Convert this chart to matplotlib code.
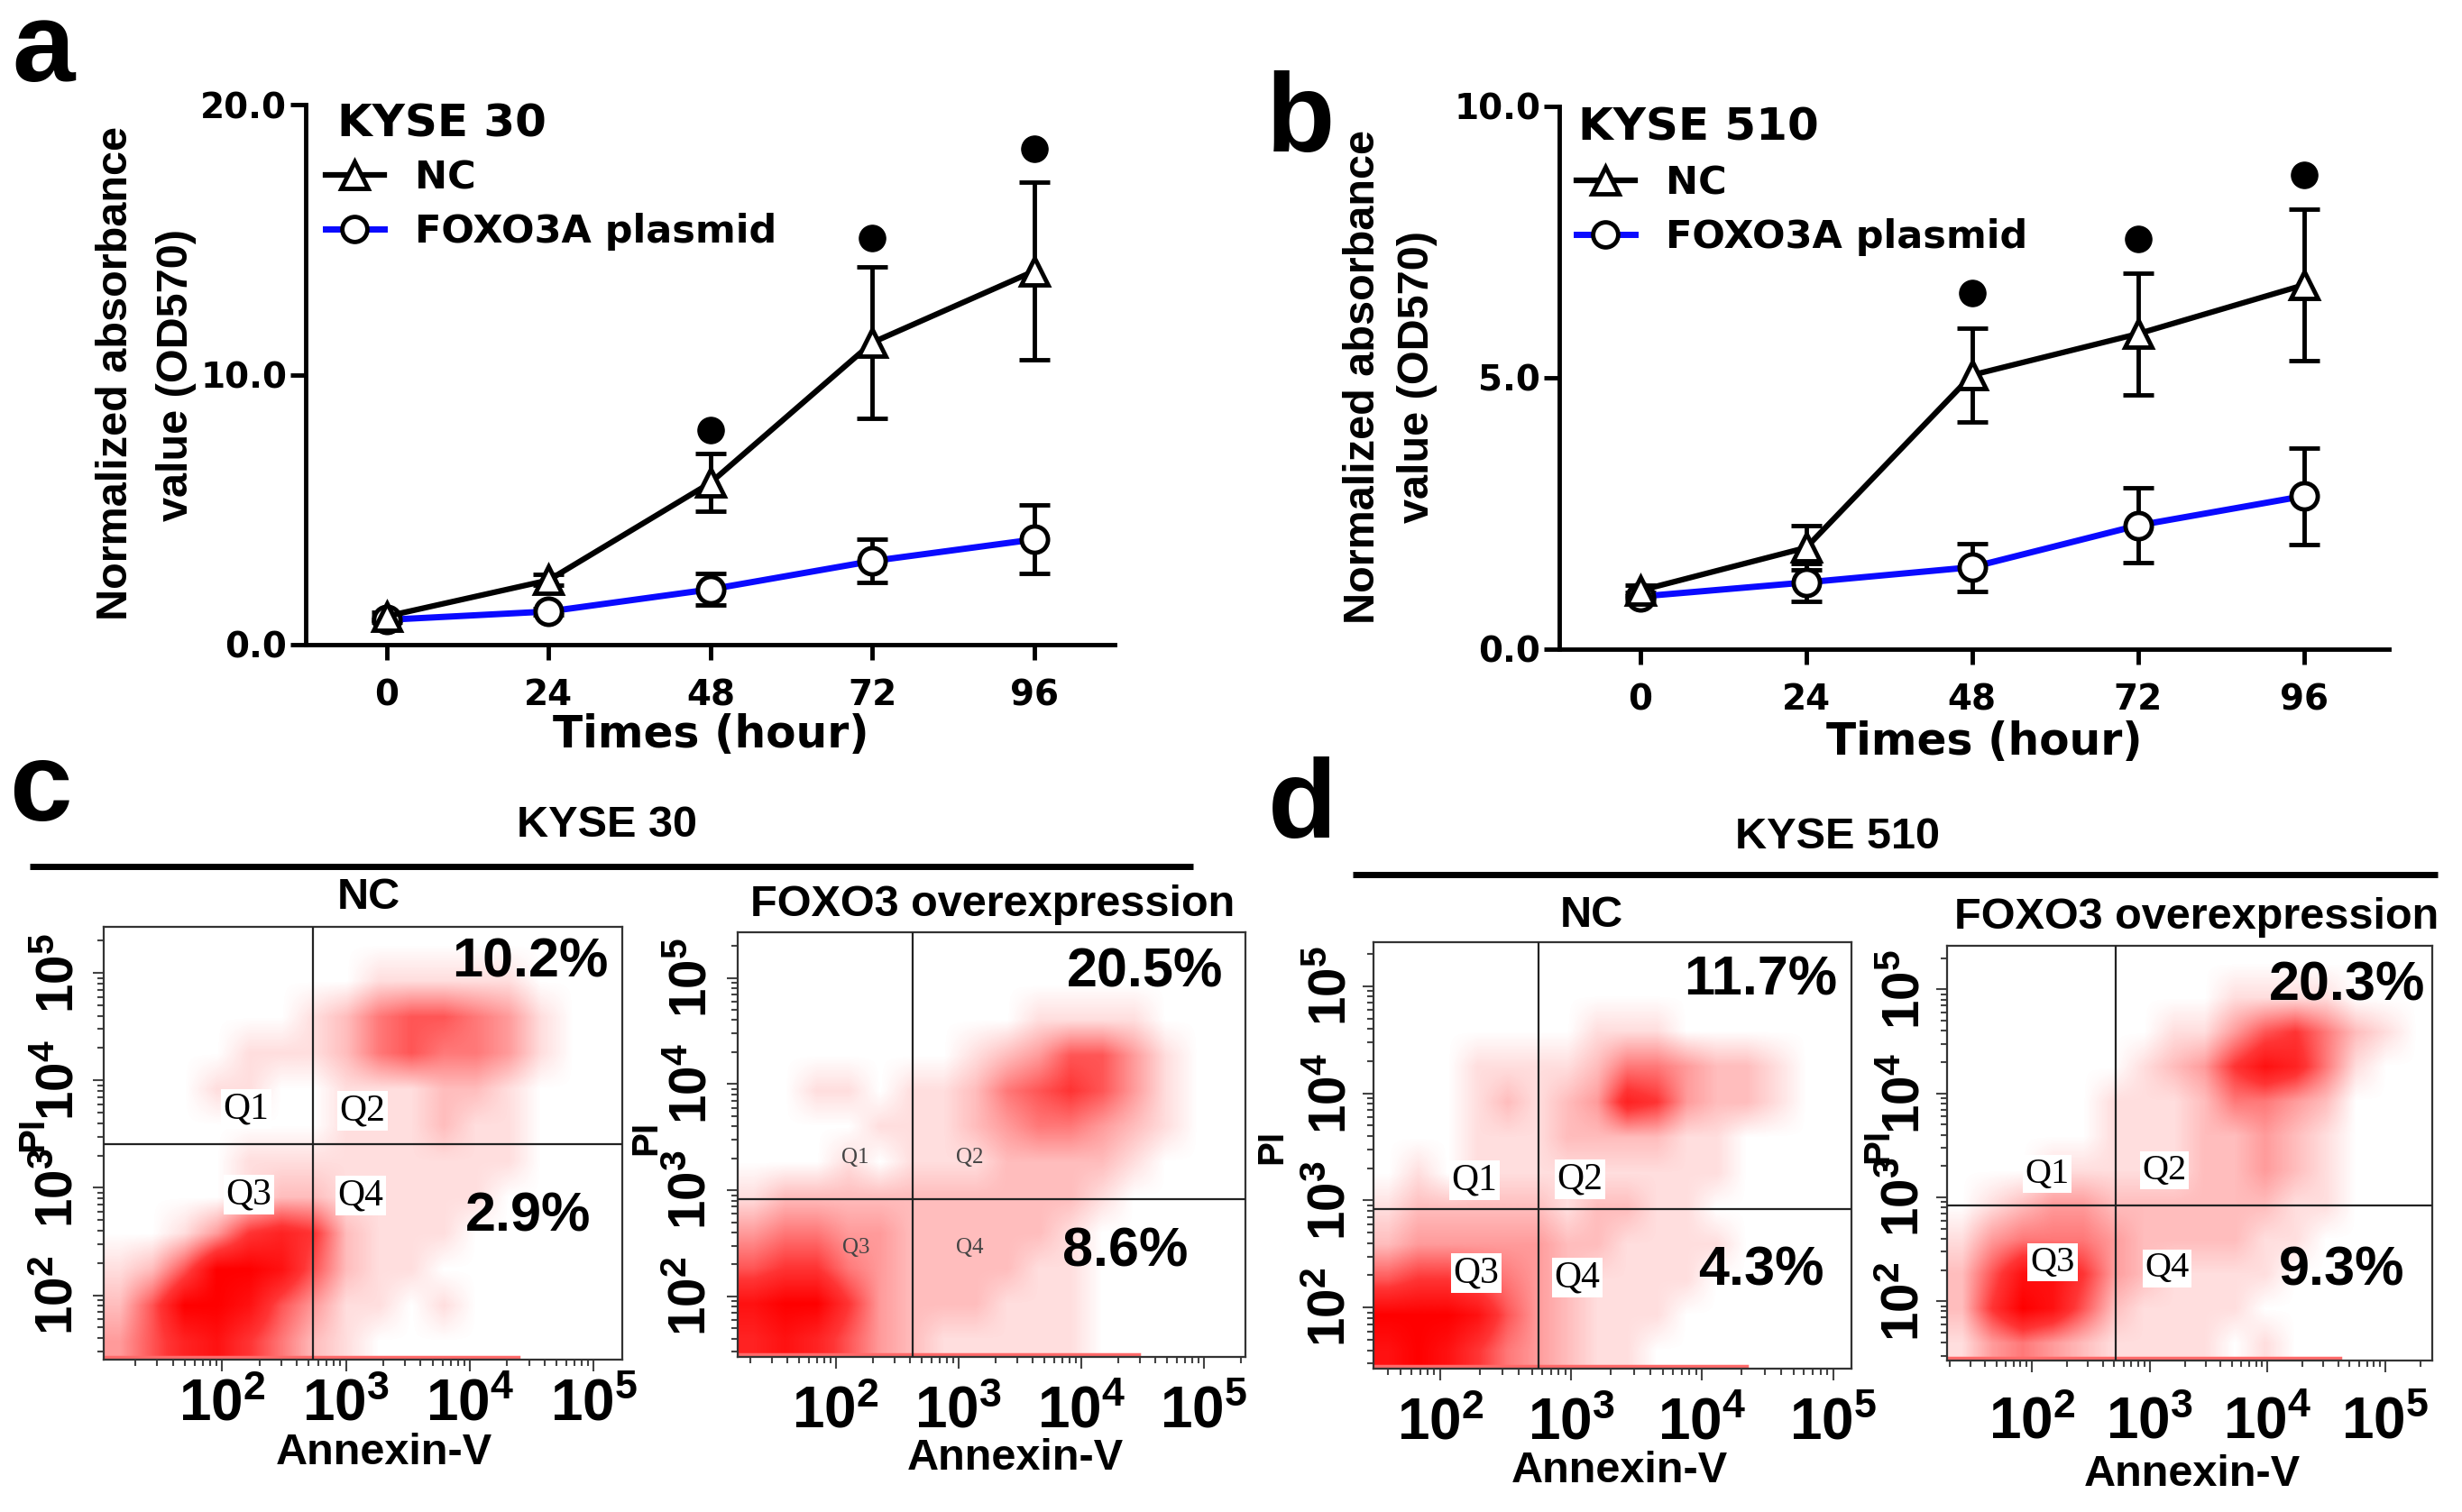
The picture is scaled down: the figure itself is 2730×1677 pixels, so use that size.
import numpy as np
import matplotlib
matplotlib.use('Agg')
import matplotlib.pyplot as plt
from matplotlib.colors import LinearSegmentedColormap
from matplotlib.lines import Line2D

plt.rcParams['mathtext.fontset'] = 'custom'
plt.rcParams['mathtext.rm'] = 'Liberation Sans'
plt.rcParams['mathtext.bf'] = 'Liberation Sans:bold'

# growth curves (a, b)
hours = [0, 24, 48, 72, 96]
sig_hours = [48, 72, 96]

kyse30_nc = [1.05, 2.39, 6.0, 11.2, 13.85]
kyse30_nc_err = [0.15, 0.2, 1.07, 2.8, 3.3]
kyse30_foxo = [0.92, 1.23, 2.05, 3.1, 3.9]
kyse30_foxo_err = [0.1, 0.12, 0.58, 0.8, 1.27]
kyse30_sig = [7.96, 15.06, 18.37]

kyse510_nc = [1.08, 1.87, 5.05, 5.81, 6.71]
kyse510_nc_err = [0.1, 0.4, 0.87, 1.12, 1.4]
kyse510_foxo = [0.97, 1.23, 1.51, 2.28, 2.82]
kyse510_foxo_err = [0.08, 0.35, 0.44, 0.69, 0.89]
kyse510_sig = [6.56, 7.55, 8.74]

# flow cytometry (c, d): gates in log10 units, quadrant %, binned event density 0-9
decades = [2, 3, 4, 5]
decade_labels = [r'$\mathbf{10^{2}}$', r'$\mathbf{10^{3}}$', r'$\mathbf{10^{4}}$', r'$\mathbf{10^{5}}$']

c_nc_gate = (2.73, 3.41)
c_fox_gate = (2.63, 2.92)
d_nc_gate = (2.75, 2.92)
d_fox_gate = (2.71, 2.92)

c_nc_pct = ('10.2%', '2.9%')
c_fox_pct = ('20.5%', '8.6%')
d_nc_pct = ('11.7%', '4.3%')
d_fox_pct = ('20.3%', '9.3%')

c_nc_streak = 4.39
c_fox_streak = 4.47
d_nc_streak = 4.34
d_fox_streak = 4.62

c_nc_density = [
    "0000000000000000",
    "0000000011111000",
    "0000001245543100",
    "0000111245443100",
    "0001100111221000",
    "0000000111211000",
    "0000111111111000",
    "0000122111110000",
    "0013676211100000",
    "1259985211000000",
    "2599853110100000",
    "3578642100000000",
]
c_fox_density = [
    "0000000000000000",
    "0000000000000000",
    "0000000001111000",
    "0000000123553100",
    "0011011245653100",
    "0000111234432100",
    "0001011122221000",
    "1222222222210000",
    "3443322222100000",
    "5664322221100000",
    "8996322211100000",
    "7875321111100000",
]
d_nc_density = [
    "0000000000000000",
    "0000000000000000",
    "0000000111000000",
    "0001111244322100",
    "0001212376322100",
    "0001112222110000",
    "0101111111110000",
    "1222221221100000",
    "2333332211110000",
    "5665432111100000",
    "9998532111000000",
    "8986432110000000",
]
d_fox_density = [
    "0000000000000000",
    "0000000001111000",
    "0000000113564210",
    "0000001236874100",
    "0000011124432000",
    "0000011122321000",
    "0001111122321000",
    "0123322222211000",
    "1344432222110000",
    "2588632111100000",
    "2698521111000000",
    "1343211110100000",
]

W, H = 2730, 1677
fig = plt.figure(figsize=(W / 100, H / 100), dpi=100)

WIDE = 'DejaVu Sans'
ARIAL = 'Liberation Sans'
TIMES = 'Liberation Serif'


def px_axes(l, r, t, b):
    return fig.add_axes([l / W, 1 - b / H, (r - l) / W, (b - t) / H])


def ftext(x, y, s, **kw):
    kw.setdefault('ha', 'center')
    kw.setdefault('va', 'center')
    kw.setdefault('fontweight', 'bold')
    return fig.text(x / W, 1 - y / H, s, **kw)


def growth_panel(box, xlim, ylim, yticks, nc, nc_err, foxo, foxo_err, sig, leg_xy):
    ax = px_axes(*box)
    for mean, err in [(nc, nc_err), (foxo, foxo_err)]:
        ax.errorbar(hours, mean, yerr=err, fmt='none', ecolor='black', elinewidth=3.5,
                    capsize=12, capthick=3.5, zorder=3, clip_on=False)
    ax.plot(hours, foxo, color='#0a0aff', lw=5, marker='o', ms=21, mfc='white',
            mec='black', mew=3.5, zorder=4, clip_on=False)
    ax.plot(hours, nc, color='black', lw=4.5, marker='^', ms=22, mfc='white',
            mec='black', mew=3.5, zorder=5, clip_on=False)
    ax.plot(sig_hours, sig, 'o', color='black', ms=21, ls='none', zorder=5, clip_on=False)
    ax.set_xlim(xlim)
    ax.set_ylim(ylim)
    ax.set_xticks(hours)
    ax.set_yticks(yticks)
    ax.set_yticklabels(['%.1f' % v for v in yticks])
    for s in ['top', 'right']:
        ax.spines[s].set_visible(False)
    for s in ['left', 'bottom']:
        ax.spines[s].set_linewidth(3.5)
    ax.tick_params(direction='out', length=12, width=3.5, labelsize=28)
    ax.tick_params(axis='x', pad=15)
    ax.tick_params(axis='y', pad=3)
    for lab in ax.get_xticklabels() + ax.get_yticklabels():
        lab.set_fontfamily(WIDE)
        lab.set_fontweight('bold')
    handles = [
        Line2D([], [], color='black', lw=4.5, marker='^', ms=21, mfc='white', mec='black', mew=3.5),
        Line2D([], [], color='#0a0aff', lw=5, marker='o', ms=20, mfc='white', mec='black', mew=3.5),
    ]
    ax.legend(handles, ['NC', 'FOXO3A plasmid'], loc='upper left',
              bbox_to_anchor=(leg_xy[0] / W, 1 - leg_xy[1] / H), bbox_transform=fig.transFigure,
              frameon=False, borderpad=0, borderaxespad=0, handlelength=1.5,
              handletextpad=0.8, labelspacing=0.42,
              prop={'family': WIDE, 'weight': 'bold', 'size': 31})
    return ax


flow_cmap = LinearSegmentedColormap.from_list(
    'flow', [(0, 'white'), (0.11, '#ffdede'), (0.33, '#ff9c9c'), (0.66, '#ff3535'), (1.0, '#ff0000')])


def flow_panel(box, xlim, ylim, density, gate, streak, xpad, ypad):
    ax = px_axes(*box)
    grid = np.array([[int(c) for c in row] for row in density], dtype=float)
    ax.imshow(grid, cmap=flow_cmap, vmin=0, vmax=9, origin='upper', aspect='auto',
              extent=(xlim[0], xlim[1], ylim[0], ylim[1]), interpolation='bilinear', zorder=1)
    ax.plot([xlim[0], streak], [ylim[0] + 0.025, ylim[0] + 0.025], color='#ff6a6a', lw=2.5, zorder=2)
    ax.axvline(gate[0], color='#222222', lw=1.6, zorder=3)
    ax.axhline(gate[1], color='#222222', lw=1.6, zorder=3)
    ax.set_xlim(xlim)
    ax.set_ylim(ylim)
    minors = [d + np.log10(k) for d in range(1, 6) for k in range(2, 10)]
    ax.set_xticks(decades)
    ax.set_xticklabels(decade_labels, fontsize=46)
    ax.set_xticks([m for m in minors if xlim[0] < m < xlim[1]], minor=True)
    ax.set_yticks(decades)
    ax.set_yticklabels(decade_labels, fontsize=42, rotation=90, va='center')
    ax.set_yticks([m for m in minors if ylim[0] < m < ylim[1]], minor=True)
    ax.tick_params(which='major', direction='out', length=9, width=1.5, color='#444444')
    ax.tick_params(which='minor', direction='out', length=5, width=1.5, color='#444444')
    ax.tick_params(axis='x', which='major', pad=xpad)
    ax.tick_params(axis='y', which='major', pad=ypad)
    for s in ax.spines.values():
        s.set_linewidth(1.6)
        s.set_color('#333333')
    return ax


# panel a / b
growth_panel((339, 1236, 116.5, 715), (-12.0, 107.9), (0, 20), [0, 10, 20],
             kyse30_nc, kyse30_nc_err, kyse30_foxo, kyse30_foxo_err, kyse30_sig, (361, 176))
growth_panel((1729, 2649, 118, 720), (-11.7, 108.3), (0, 10), [0, 5, 10],
             kyse510_nc, kyse510_nc_err, kyse510_foxo, kyse510_foxo_err, kyse510_sig, (1748, 182))

ftext(374, 138, 'KYSE 30', family=WIDE, fontsize=36, ha='left')
ftext(1750, 142, 'KYSE 510', family=WIDE, fontsize=36, ha='left')

for x, y, s in [(788, 815, 'Times (hour)'), (2200, 823, 'Times (hour)')]:
    ftext(x, y, s, family=WIDE, fontsize=35)
for x, y, s in [(129, 414, 'Normalized absorbance'), (196, 416, 'value (OD570)'),
                (1511, 418, 'Normalized absorbance'), (1572, 418, 'value (OD570)')]:
    ftext(x, y, s, family=ARIAL, fontsize=35, rotation=90)

# panel letters
for x, y, s in [(13, 90, 'a'), (1404, 168, 'b'), (10, 910, 'c'), (1406, 929, 'd')]:
    ftext(x, y, s, family=ARIAL, fontsize=90, ha='left', va='baseline')

# panel c / d
flow_panel((115, 690, 1028, 1508), (1.045, 5.23), (1.40, 5.43), c_nc_density, c_nc_gate, c_nc_streak, 4, 7)
flow_panel((818, 1381, 1034, 1505), (1.20, 5.34), (1.43, 5.43), c_fox_density, c_fox_gate, c_fox_streak, 12, 8)
flow_panel((1523, 2053, 1045, 1518), (1.49, 5.14), (1.43, 5.41), d_nc_density, d_nc_gate, d_nc_streak, 12, 5)
flow_panel((2159, 2697, 1049, 1509), (1.28, 5.40), (1.43, 5.42), d_fox_density, d_fox_gate, d_fox_streak, 18, 5)

for x0, x1, y in [(33, 1323, 961), (1500, 2703, 970)]:
    fig.add_artist(Line2D([x0 / W, x1 / W], [1 - y / H, 1 - y / H], transform=fig.transFigure,
                          color='black', lw=5, solid_capstyle='butt'))

for x, y, s in [(673, 916, 'KYSE 30'), (2037, 928, 'KYSE 510'),
                (409, 996, 'NC'), (1101, 1003, 'FOXO3 overexpression'),
                (1765, 1015, 'NC'), (2436, 1017, 'FOXO3 overexpression')]:
    ftext(x, y, s, family=ARIAL, fontsize=35)

for x, y in [(426, 1612), (1126, 1618), (1796, 1631), (2431, 1636)]:
    ftext(x, y, 'Annexin-V', family=ARIAL, fontsize=35)
for x, y in [(36, 1258), (716, 1262), (1410, 1272), (2082, 1271)]:
    ftext(x, y, 'PI', family=ARIAL, fontsize=29, rotation=90)

pct_pos = [
    (c_nc_pct, [(588, 1068), (586, 1350)]),
    (c_fox_pct, [(1270, 1079), (1248, 1389)]),
    (d_nc_pct, [(1952, 1088), (1953, 1410)]),
    (d_fox_pct, [(2603, 1094), (2597, 1410)]),
]
for pcts, pos in pct_pos:
    for s, (x, y) in zip(pcts, pos):
        ftext(x, y, s, family=ARIAL, fontsize=44)

q_names = ['Q1', 'Q2', 'Q3', 'Q4']
q_sets = [
    ([(273, 1230), (402, 1232), (276, 1325), (400, 1326)], 30, 'black', True),
    ([(948, 1284), (1075, 1284), (949, 1384), (1075, 1384)], 18, '#444444', False),
    ([(1635, 1309), (1752, 1308), (1637, 1412), (1749, 1417)], 30, 'black', True),
    ([(2270, 1302), (2400, 1298), (2276, 1400), (2403, 1407)], 29, 'black', True),
]
for pos, size, col, boxed in q_sets:
    for name, (x, y) in zip(q_names, pos):
        bbox = dict(facecolor='white', edgecolor='none', pad=2) if boxed else None
        ftext(x, y, name, family=TIMES, fontweight='normal', fontsize=size, color=col, bbox=bbox)

fig.savefig('out.png', dpi=100)
